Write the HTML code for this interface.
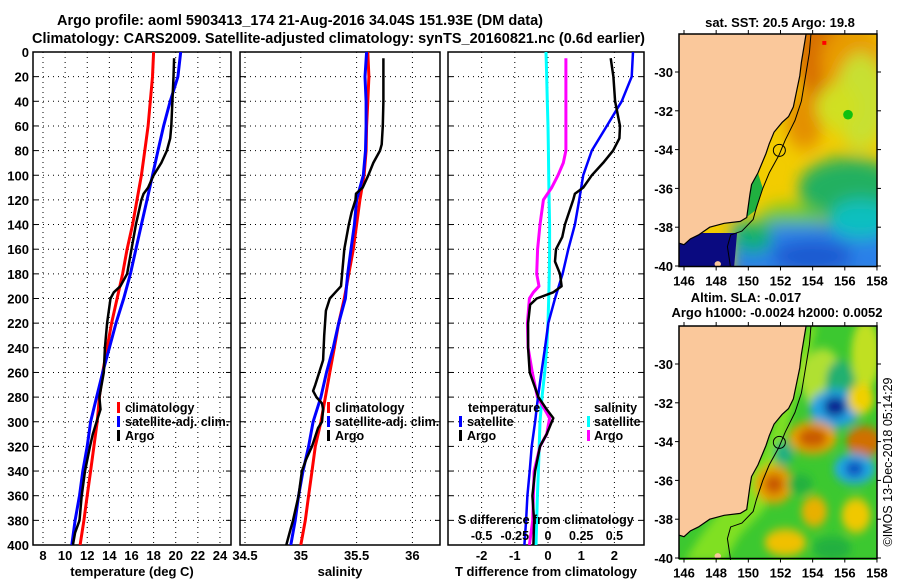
<!DOCTYPE html>
<html><head><meta charset="utf-8"><style>
html,body{margin:0;padding:0;background:#fff;}
svg{display:block;font-family:"Liberation Sans",Arial,sans-serif;font-weight:bold;}
</style></head><body>
<svg id="fig" width="900" height="580" viewBox="0 0 900 580" xmlns="http://www.w3.org/2000/svg">
<defs>
<clipPath id="c1"><rect x="33" y="52" width="198" height="493"/></clipPath>
<clipPath id="c2"><rect x="240" y="52" width="200" height="493"/></clipPath>
<clipPath id="c3"><rect x="448" y="52" width="196" height="493"/></clipPath>
<clipPath id="m1"><rect x="679" y="34" width="198" height="233"/></clipPath>
<clipPath id="m2"><rect x="679" y="326" width="198" height="234"/></clipPath>
<filter id="bl" x="-50%" y="-50%" width="200%" height="200%"><feGaussianBlur stdDeviation="0.45"/></filter>
<filter id="bl2" x="-50%" y="-50%" width="200%" height="200%"><feGaussianBlur stdDeviation="0.25"/></filter>
</defs>
<text x="57" y="25" font-size="14.5" textLength="486" lengthAdjust="spacingAndGlyphs">Argo profile: aoml 5903413_174 21-Aug-2016 34.04S 151.93E (DM data)</text>
<text x="32" y="43" font-size="14.5" textLength="613" lengthAdjust="spacingAndGlyphs">Climatology: CARS2009. Satellite-adjusted climatology: synTS_20160821.nc (0.6d earlier)</text>
<g id="plots"></g>
<g id="maps"></g>
<text transform="translate(892,462) rotate(-90)" font-size="12.5" font-weight="normal" text-anchor="middle">©IMOS 13-Dec-2018 05:14:29</text>
</svg>
<script>
// ---- chart data ----
const climDepths = [0,20,40,60,80,100,120,140,160,180,200,220,240,260,280,300,320,340,360,380,400];
const tempClim = [18.0,17.9,17.7,17.5,17.2,16.9,16.5,16.1,15.6,15.2,14.7,14.2,13.8,13.4,13.1,12.9,12.6,12.3,12.0,11.7,11.35];
const tempSat = [20.45,20.2,19.5,18.9,18.4,17.9,17.4,16.9,16.4,15.9,15.3,14.6,14.0,13.4,12.85,12.3,12.0,11.6,11.3,10.9,10.6];
const argoTDepths = [5,20,40,60,70,80,90,100,110,115,120,140,160,180,190,195,200,220,240,260,280,290,300,310,320,340,360,380,390,400];
const tempArgo = [19.85,19.8,19.7,19.6,19.5,19.2,18.7,18.0,17.5,17.1,16.9,16.4,16.0,15.6,15.0,14.4,14.1,13.8,13.6,13.5,13.1,13.2,12.85,12.5,12.25,11.8,11.5,11.3,10.9,10.7];
const salClim = [35.60,35.61,35.60,35.59,35.585,35.567,35.53,35.50,35.47,35.43,35.39,35.34,35.30,35.26,35.22,35.18,35.13,35.10,35.07,35.04,35.0];
const salSat = [35.59,35.575,35.585,35.585,35.58,35.56,35.5,35.48,35.45,35.42,35.40,35.34,35.29,35.23,35.18,35.11,35.07,35.02,34.98,34.95,34.91];
const argoSDepths = [5,20,40,60,75,80,90,100,110,115,120,130,140,160,180,190,195,200,210,230,250,270,275,280,285,290,300,305,320,330,340,360,380,390,400];
const salArgo = [35.74,35.74,35.74,35.735,35.725,35.71,35.65,35.605,35.555,35.495,35.49,35.455,35.43,35.39,35.37,35.36,35.31,35.26,35.225,35.21,35.2,35.13,35.11,35.14,35.19,35.2,35.19,35.155,35.1,35.05,35.01,34.98,34.93,34.9,34.87];
const dTSat = [2.56,2.52,2.22,1.77,1.32,1.06,0.94,0.81,0.61,0.44,0.21,0.01,-0.09,-0.2,-0.3,-0.39,-0.49,-0.55,-0.62,-0.66,-0.71];
const dTArgoDepths = [5,20,40,60,70,80,90,100,110,115,120,140,150,160,170,180,190,195,200,205,220,240,260,280,290,297,310,320,340,360,380,400];
const dTArgo = [1.89,1.97,2.02,2.17,2.15,1.96,1.66,1.32,1.06,0.81,0.76,0.51,0.43,0.24,0.21,0.36,0.41,0.16,-0.34,-0.54,-0.6,-0.6,-0.55,-0.29,-0.04,0.16,-0.04,-0.24,-0.39,-0.47,-0.42,-0.44];
const dSSat = [-0.015,-0.01,-0.005,0,0.003,0.005,0.008,0.012,0.012,0.01,0.005,0,-0.01,-0.025,-0.045,-0.06,-0.066,-0.072,-0.08,-0.085,-0.09];
const dSArgoDepths = [5,20,40,60,80,90,100,110,120,140,160,180,190,195,200,220,240,260,280,290,297,310,320,340,360,380,400];
const dSArgo = [0.135,0.135,0.135,0.135,0.135,0.115,0.075,0.028,-0.035,-0.06,-0.078,-0.085,-0.068,-0.11,-0.14,-0.155,-0.15,-0.118,-0.08,-0.025,0.012,-0.01,-0.06,-0.105,-0.11,-0.115,-0.14];
const depthTicks = [0,20,40,60,80,100,120,140,160,180,200,220,240,260,280,300,320,340,360,380,400];
const tempTicks = [8,10,12,14,16,18,20,22,24];
const salTicks = [34.5,35,35.5,36];
const salTickLabels = ["34.5","35","35.5","36"];
const dTTicks = [-2,-1,0,1,2];
const dSTicks = [-0.5,-0.25,0,0.25,0.5];
const dSTickLabels = ["-0.5","-0.25","0","0.25","0.5"];
const mapLonTicks = [146,148,150,152,154,156,158];
const mapLatTicks = [-30,-32,-34,-36,-38,-40];

const NS = "http://www.w3.org/2000/svg";
function mk(tag, attrs, parent){const e=document.createElementNS(NS,tag);for(const k in attrs)e.setAttribute(k,attrs[k]);parent.appendChild(e);return e;}
const plots = document.getElementById('plots');
const yD = d => 52 + d*493/400;
const xT = t => 43 + (t-8)*11.06;
const xS = s => 245 + (s-34.5)*111.6;
const xDT = t => 548 + t*33.2;
const xDS = s => 548 + s*4*33.2;

function panel(name, x0, x1, clip, xticks, xfn, labels, title){
  const g = mk('g',{},plots);
  
  
  depthTicks.forEach(d=>{
    if(d>0&&d<400){const l=mk('line',{x1:x0,x2:x1,y1:yD(d),y2:yD(d),stroke:'#000','stroke-width':1,'stroke-dasharray':'1,4'},g);
    }
    mk('line',{x1:x0,x2:x0+5,y1:yD(d),y2:yD(d),stroke:'#000'},g);
    mk('line',{x1:x1-5,x2:x1,y1:yD(d),y2:yD(d),stroke:'#000'},g);
  });
  xticks.forEach((t,i)=>{
    const x=xfn(t);
    const l=mk('line',{x1:x,x2:x,y1:52,y2:545,stroke:'#000','stroke-width':1,'stroke-dasharray':'1,4'},g);
    
    if(labels){const tx=mk('text',{x:x,y:560,'font-size':13,'text-anchor':'middle'},g);tx.textContent=labels[i];
      }
  });
  const fr=mk('rect',{x:x0,y:52,width:x1-x0,height:493,fill:'none',stroke:'#000','stroke-width':1.5},g);
  
  const tt=mk('text',{x:(x0+x1)/2,y:576,'font-size':13,'text-anchor':'middle'},g);tt.textContent=title;
  
  return g;
}
function line(g, depths, vals, xfn, color, w, clip, name){
  const pts = depths.map((d,i)=>xfn(vals[i]).toFixed(1)+','+yD(d).toFixed(1)).join(' ');
  const p = mk('polyline',{points:pts,fill:'none',stroke:color,'stroke-width':w,'clip-path':'url(#'+clip+')','stroke-linejoin':'round'},g);
  
  
}
function legendItem(g, bx, tx, y, color, label){
  mk('rect',{x:bx,y:y-5,width:3,height:11,fill:color},g);
  const t=mk('text',{x:tx,y:y+5,'font-size':12.5},g);t.textContent=label;
  
  
}
depthTicks.forEach(d=>{const t=mk('text',{x:29,y:yD(d)+5,'font-size':13,'text-anchor':'end'},plots);t.textContent=d;
  });

const g1 = panel('temperature-panel',33,231,'c1',tempTicks,xT,tempTicks.map(String),'temperature (deg C)');
line(g1,climDepths,tempClim,xT,'#f00',3,'c1','climatology-temp-line');
line(g1,climDepths,tempSat,xT,'#00f',3,'c1','satellite-temp-line');
line(g1,argoTDepths,tempArgo,xT,'#000',2.5,'c1','argo-temp-line');
legendItem(g1,117,125,407,'#f00','climatology');
legendItem(g1,117,125,421,'#00f','satellite-adj. clim.');
legendItem(g1,117,125,435,'#000','Argo');

const g2 = panel('salinity-panel',240,440,'c2',salTicks,xS,salTickLabels,'salinity');
line(g2,climDepths,salClim,xS,'#f00',3,'c2','climatology-sal-line');
line(g2,climDepths,salSat,xS,'#00f',3,'c2','satellite-sal-line');
line(g2,argoSDepths,salArgo,xS,'#000',2.5,'c2','argo-sal-line');
legendItem(g2,327,335,407,'#f00','climatology');
legendItem(g2,327,335,421,'#00f','satellite-adj. clim.');
legendItem(g2,327,335,435,'#000','Argo');

const g3 = panel('difference-panel',448,644,'c3',dTTicks,xDT,dTTicks.map(String),'T difference from climatology');
line(g3,climDepths,dSSat,xDS,'#0ff',3,'c3','satellite-sdiff-line');
line(g3,dSArgoDepths,dSArgo,xDS,'#f0f',3,'c3','argo-sdiff-line');
line(g3,climDepths,dTSat,xDT,'#00f',2.5,'c3','satellite-tdiff-line');
line(g3,dTArgoDepths,dTArgo,xDT,'#000',2.5,'c3','argo-tdiff-line');
{const t=mk('text',{x:468,y:412,'font-size':12.5},g3);t.textContent='temperature';}
{const t=mk('text',{x:594,y:412,'font-size':12.5},g3);t.textContent='salinity';}
legendItem(g3,459,467,421,'#00f','satellite');
legendItem(g3,459,467,435,'#000','Argo');
legendItem(g3,587,594,421,'#0ff','satellite');
legendItem(g3,587,594,435,'#f0f','Argo');
{const t=mk('text',{x:458,y:524,'font-size':12.5},g3);t.textContent='S difference from climatology';}
dSTicks.forEach((s,i)=>{const t=mk('text',{x:xDS(s),y:540,'font-size':12.5,'text-anchor':'middle'},g3);t.textContent=dSTickLabels[i];
  });

// ---- maps ----
const maps = document.getElementById('maps');
const coast = [[153.6,28.0],[153.5,28.5],[153.3,29.5],[153.2,30.2],[153.0,31],[152.8,31.8],[152.5,32.3],[152.1,32.6],[151.6,33.1],[151.3,33.7],[151.1,34.2],[150.9,34.6],[150.6,35.2],[150.2,35.8],[150.1,36.3],[150.0,36.9],[149.9,37.5],[149.5,37.7],[148.5,37.8],[147.6,38.0],[146.9,38.4],[146.4,38.6],[146.0,38.9],[145.6,38.8],[145.6,28.0]];
const shelf = [[153.9,28.0],[153.8,29],[153.6,30],[153.3,31.5],[152.9,32.5],[152.3,33.5],[151.9,34.3],[151.3,35.2],[150.9,36],[150.5,37],[150.3,37.6],[149.6,38.2],[148.9,38.4],[148.7,39],[148.9,40.1]];
function drawMap(name, y72, clip, fill){
  const g = mk('g',{'clip-path':'url(#'+clip+')'},maps);
  
  
  const tg = mk('g',{transform:`translate(684,${y72}) scale(16.08,19.4) translate(-146,-30)`},g);
  fill(tg);
  mk('polygon',{points:coast.map(p=>p.join(',')).join(' '),fill:'#fac89b'},tg);
  mk('ellipse',{cx:148.1,cy:39.9,rx:0.2,ry:0.15,fill:'#fac89b'},tg);
  mk('polyline',{points:coast.map(p=>p.join(',')).join(' '),fill:'none',stroke:'#000','stroke-width':1.2,'vector-effect':'non-scaling-stroke'},tg);
  mk('polyline',{points:shelf.map(p=>p.join(',')).join(' '),fill:'none',stroke:'#000','stroke-width':1,'vector-effect':'non-scaling-stroke'},tg);
  const c = mk('circle',{cx:684+(151.93-146)*16.08,cy:y72+(34.04-30)*19.4,r:6,fill:'none',stroke:'#000','stroke-width':1},maps);
  
  const top=y72-38, bot=y72+194.5;
  mk('rect',{x:679,y:top,width:198,height:bot-top,fill:'none',stroke:'#000','stroke-width':1.5},maps);
  mapLonTicks.forEach(l=>{const x=684+(l-146)*16.08;
    mk('line',{x1:x,x2:x,y1:top-4,y2:top,stroke:'#000'},maps);mk('line',{x1:x,x2:x,y1:bot,y2:bot+4,stroke:'#000'},maps);
    const t=mk('text',{x:x,y:bot+19,'font-size':13,'text-anchor':'middle'},maps);t.textContent=l;
    });
  mapLatTicks.forEach(l=>{const y=y72+(-30-l)*19.4;
    mk('line',{x1:675,x2:679,y1:y,y2:y,stroke:'#000'},maps);mk('line',{x1:877,x2:881,y1:y,y2:y,stroke:'#000'},maps);
    const t=mk('text',{x:673,y:y+5,'font-size':13,'text-anchor':'end'},maps);t.textContent=l;
    });
}
function sst(g){
  mk('rect',{x:145,y:27,width:14,height:14,fill:'#f2cc00'},g);
  const b=mk('g',{filter:'url(#bl)'},g);
  mk('ellipse',{cx:154.5,cy:29,rx:1.6,ry:2.5,fill:'#d87000'},b);
  mk('ellipse',{cx:156.5,cy:29.5,rx:2,ry:2,fill:'#e89a00'},b);
  mk('ellipse',{cx:153.5,cy:32.5,rx:1.2,ry:1.5,fill:'#e49000'},b);
  mk('ellipse',{cx:157,cy:31.5,rx:1.6,ry:2.5,fill:'#c8e030'},b);
  mk('ellipse',{cx:155.5,cy:31.8,rx:1.3,ry:1.2,fill:'#d0e020'},b);
  mk('ellipse',{cx:156.3,cy:36,rx:3.2,ry:1.6,fill:'#20b060'},b);
  mk('ellipse',{cx:152.6,cy:37.6,rx:2,ry:0.8,fill:'#70cc20'},b);
  mk('rect',{x:149,y:37.8,width:10,height:3,fill:'#2a80e8'},b);
  mk('ellipse',{cx:157,cy:37.6,rx:2,ry:1,fill:'#10c0c0'},b);
  mk('ellipse',{cx:154,cy:39.5,rx:2.5,ry:0.8,fill:'#1a58d0'},b);
  mk('ellipse',{cx:150.3,cy:38.5,rx:1.2,ry:0.8,fill:'#10b070'},b);
  mk('polygon',{points:'145.6,38.3 149.3,38.3 149.1,40.2 145.6,40.2',fill:'#0a0a80'},g);
  mk('polygon',{points:'149.9,36 150.6,35.2 150.9,36 150.5,37.1 149.7,37.6',fill:'#20b040'},g);
  mk('ellipse',{cx:156.2,cy:32.2,rx:0.3,ry:0.25,fill:'#10c010'},g);
  mk('rect',{x:154.6,y:28.4,width:0.25,height:0.2,fill:'#f00'},g);
}
function sla(g){
  mk('rect',{x:145,y:27,width:14,height:14,fill:'#3cc830'},g);
  const b=mk('g',{filter:'url(#bl2)'},g);
  mk('polygon',{points:'151,34.5 153.7,28 154.3,28 152,34.5 151,37.5 149.5,38.8 148.5,40.2 146,40.2 147,38.9',fill:'#80e020'},b);
  mk('ellipse',{cx:154.6,cy:30.8,rx:1.3,ry:1.6,fill:'#b0e030'},b);
  mk('ellipse',{cx:157.3,cy:29.5,rx:0.9,ry:1.8,fill:'#c0e020'},b);
  mk('ellipse',{cx:155.7,cy:31,rx:0.9,ry:1.2,fill:'#20b070'},b);
  mk('ellipse',{cx:155.4,cy:32.3,rx:1.6,ry:1.0,fill:'#20a0e0'},b);
  mk('ellipse',{cx:155.4,cy:32.2,rx:0.7,ry:0.5,fill:'#0a1e90'},b);
  mk('ellipse',{cx:154,cy:33.8,rx:1.5,ry:0.85,fill:'#e8a000'},b);
  mk('ellipse',{cx:154,cy:33.8,rx:0.9,ry:0.5,fill:'#c85800'},b);
  mk('ellipse',{cx:157.2,cy:34,rx:1.1,ry:0.8,fill:'#d07000'},b);
  mk('ellipse',{cx:156.6,cy:35.4,rx:1.3,ry:0.8,fill:'#20a8e0'},b);
  mk('ellipse',{cx:156.6,cy:35.4,rx:0.6,ry:0.4,fill:'#1050c0'},b);
  mk('ellipse',{cx:151.6,cy:36.2,rx:1.2,ry:1.0,fill:'#e8a000'},b);
  mk('ellipse',{cx:151.6,cy:36.2,rx:0.6,ry:0.5,fill:'#c85800'},b);
  mk('ellipse',{cx:154.1,cy:37.6,rx:0.8,ry:0.8,fill:'#e8b000'},b);
  mk('ellipse',{cx:156.7,cy:37.8,rx:0.9,ry:0.9,fill:'#f0c800'},b);
  mk('ellipse',{cx:152.3,cy:39.2,rx:1.3,ry:0.7,fill:'#f0c000'},b);
  mk('ellipse',{cx:152.2,cy:34.6,rx:0.6,ry:0.6,fill:'#20b080'},b);
  mk('ellipse',{cx:153.2,cy:36.2,rx:0.8,ry:0.5,fill:'#20b040'},b);
  mk('ellipse',{cx:157,cy:31.8,rx:0.8,ry:0.8,fill:'#f0d000'},b);
  mk('ellipse',{cx:155.2,cy:39.5,rx:1.2,ry:0.6,fill:'#20b040'},b);
}
drawMap('sst-map',72,'m1',sst);
drawMap('sla-map',364,'m2',sla);
[[780,27,'sat. SST: 20.5 Argo: 19.8','sst-map-title'],[746,302,'Altim. SLA: -0.017','sla-map-title'],[777,317,'Argo h1000: -0.0024 h2000: 0.0052','argo-height-title']].forEach(a=>{
  const t=mk('text',{x:a[0],y:a[1],'font-size':13,'text-anchor':'middle'},maps);t.textContent=a[2];
  });
</script>
</body></html>
